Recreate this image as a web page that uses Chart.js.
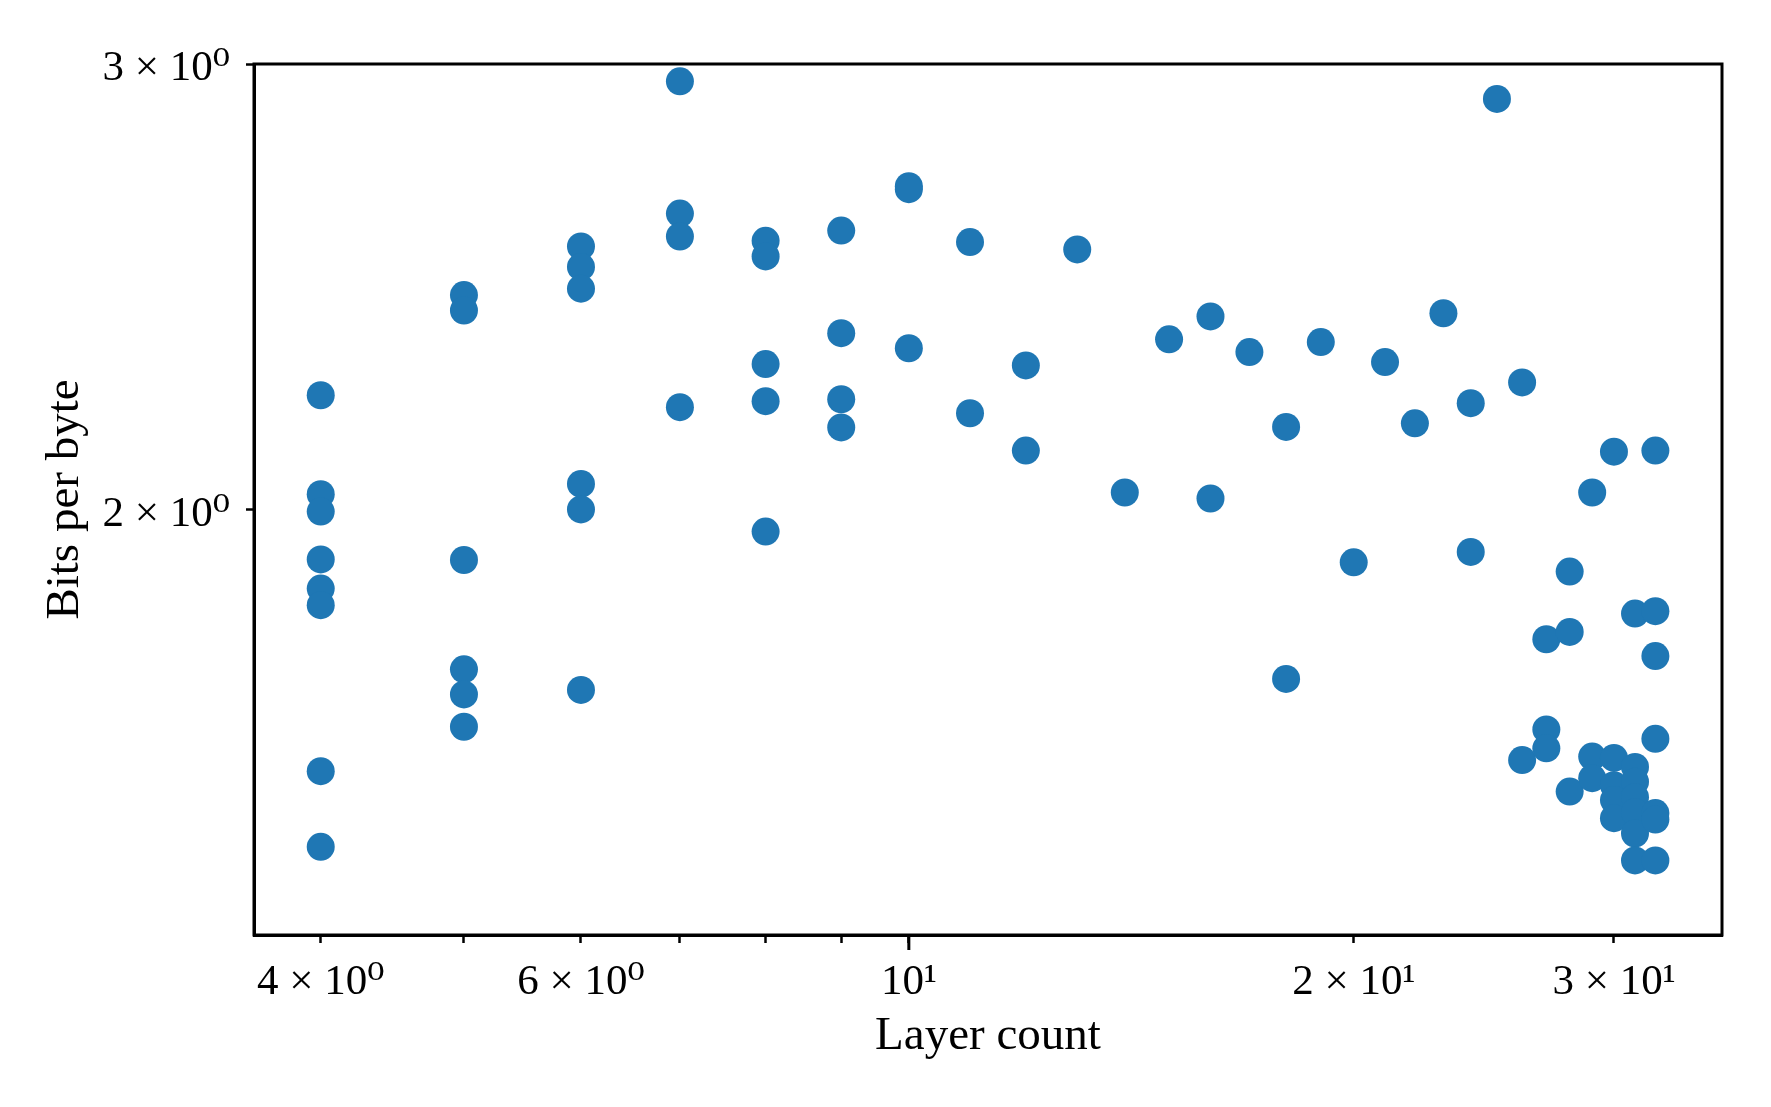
<!DOCTYPE html>
<html>
<head>
<meta charset="utf-8">
<script src="https://cdn.jsdelivr.net/npm/chart.js@4.4.1/dist/chart.umd.min.js"></script>
<style>
  body { margin: 0; background: #fff; }
</style>
</head>
<body>
<canvas id="myChart" width="1771" height="1107"></canvas>
<script>
// layer count of each model (x) and its bits per byte (y)
const layers = [
  4, 4, 4, 4, 4, 4, 4, 4,
  5, 5, 5, 5, 5, 5,
  6, 6, 6, 6, 6, 6,
  7, 7, 7, 7,
  8, 8, 8, 8, 8,
  9, 9, 9, 9,
  10, 10, 10,
  11, 11,
  12, 12,
  13, 14, 15,
  16, 16,
  17,
  18, 18,
  19, 20, 21, 22, 23,
  24, 24,
  25,
  26, 26,
  27, 27, 27,
  28, 28, 28,
  29, 29, 29,
  30, 30, 30, 30, 30,
  31, 31, 31, 31, 31, 31, 31,
  32, 32, 32, 32, 32, 32, 32
];
const bitsPerByte = [
  2.219, 2.028, 1.996, 1.911, 1.861, 1.833, 1.576, 1.471,
  2.431, 2.397, 1.910, 1.729, 1.690, 1.641,
  2.541, 2.494, 2.445, 2.047, 2.000, 1.697,
  2.953, 2.618, 2.564, 2.195,
  2.554, 2.518, 2.283, 2.207, 1.960,
  2.578, 2.348, 2.211, 2.155,
  2.684, 2.677, 2.316,
  2.551, 2.183,
  2.280, 2.110,
  2.534, 2.031, 2.335,
  2.384, 2.020,
  2.308,
  2.156, 1.714,
  2.329, 1.906, 2.287, 2.163, 2.391,
  2.203, 1.924,
  2.906,
  2.245, 1.592,
  1.777, 1.637, 1.609,
  1.890, 1.789, 1.547,
  2.031, 1.597, 1.566,
  2.108, 1.595, 1.556, 1.535, 1.510,
  1.819, 1.582, 1.561, 1.539, 1.518, 1.489, 1.453,
  2.110, 1.823, 1.750, 1.623, 1.517, 1.508, 1.453
];

const xTickValues = [4, 5, 6, 7, 8, 9, 10, 20, 30];
const xTickLabels = ['4 × 10⁰', '', '6 × 10⁰', '', '', '', '10¹', '2 × 10¹', '3 × 10¹'];
const yTickValues = [2, 3];
const yTickLabels = ['2 × 10⁰', '3 × 10⁰'];

const points = layers.map((x, i) => ({ x: x, y: bitsPerByte[i] }));
const fontFamily = "'Liberation Serif', 'DejaVu Serif', serif";

// closed frame round the plot plus the longer major tick at 10
const framePlugin = {
  id: 'frame',
  afterDraw(chart) {
    const { ctx, chartArea: a, scales } = chart;
    ctx.save();
    ctx.strokeStyle = '#000';
    ctx.lineWidth = 3;
    ctx.strokeRect(a.left, a.top, a.right - a.left, a.bottom - a.top);
    const x10 = scales.x.getPixelForValue(10);
    ctx.beginPath();
    ctx.moveTo(x10, a.bottom);
    ctx.lineTo(x10, a.bottom + 15);
    ctx.stroke();
    ctx.restore();
  }
};

const config = {
  type: 'scatter',
  data: {
    datasets: [{
      data: points,
      backgroundColor: '#1f77b4',
      borderWidth: 0,
      pointRadius: 14,
      pointHoverRadius: 14
    }]
  },
  options: {
    responsive: false,
    animation: false,
    layout: { padding: { left: 0, top: 64, right: 49, bottom: 0 } },
    plugins: {
      legend: { display: false },
      tooltip: { enabled: false }
    },
    scales: {
      x: {
        type: 'logarithmic',
        min: 3.605,
        max: 35.5,
        afterFit: (scale) => { scale.height = 172; },
        afterBuildTicks: (scale) => {
          scale.ticks = xTickValues.map(v => ({ value: v }));
        },
        ticks: {
          autoSkip: false,
          maxRotation: 0,
          padding: 14,
          color: '#000',
          font: { family: fontFamily, size: 43 },
          callback: (value, index) => xTickLabels[index]
        },
        grid: {
          drawOnChartArea: false,
          tickLength: 8,
          tickWidth: 2.5,
          tickColor: '#000'
        },
        border: { color: '#000', width: 3 },
        title: {
          display: true,
          text: 'Layer count',
          color: '#000',
          font: { family: fontFamily, size: 47 },
          padding: { top: 0, bottom: 42 }
        }
      },
      y: {
        type: 'logarithmic',
        min: 1.3576,
        max: 3.0,
        afterFit: (scale) => { scale.width = 254; },
        afterBuildTicks: (scale) => {
          scale.ticks = yTickValues.map(v => ({ value: v }));
        },
        ticks: {
          autoSkip: false,
          padding: 16,
          labelOffset: 5,
          color: '#000',
          font: { family: fontFamily, size: 43 },
          callback: (value, index) => yTickLabels[index]
        },
        grid: {
          drawOnChartArea: false,
          tickLength: 8,
          tickWidth: 2.5,
          tickColor: '#000'
        },
        border: { color: '#000', width: 3 },
        title: {
          display: true,
          text: 'Bits per byte',
          color: '#000',
          font: { family: fontFamily, size: 47 },
          padding: { top: 37, bottom: 0 }
        }
      }
    }
  },
  plugins: [framePlugin]
};

const myChart = new Chart(document.getElementById('myChart'), config);
</script>
</body>
</html>
